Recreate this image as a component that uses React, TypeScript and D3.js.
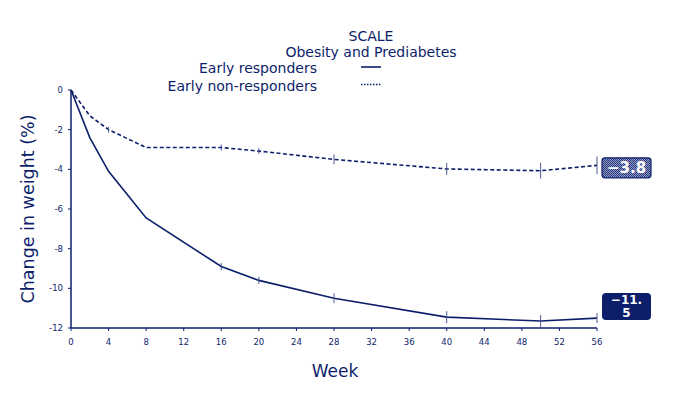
import { useMemo } from "react";
import * as d3 from "d3";

const weeks = [0, 2, 4, 8, 16, 20, 28, 40, 50, 56];
const responders = [0, -2.4, -4.1, -6.45, -8.9, -9.6, -10.5, -11.45, -11.65, -11.5];
const nonResponders = [0, -1.3, -2.0, -2.9, -2.9, -3.08, -3.5, -3.98, -4.07, -3.8];
// half length of the little vertical error ticks (null = none drawn)
const respondersErr = [null, null, null, null, 0.18, 0.18, 0.25, 0.3, 0.3, 0.25];
const nonRespondersErr = [null, null, 0.15, null, 0.15, 0.15, 0.25, 0.3, 0.4, 0.45];
const xTicks = [0, 4, 8, 12, 16, 20, 24, 28, 32, 36, 40, 44, 48, 52, 56];
const yTicks = [0, -2, -4, -6, -8, -10, -12];

const navy = "#0d1e6b";
const font = "DejaVu Sans, Verdana, sans-serif";

export default function App() {
  const width = 691;
  const height = 398;
  const x = d3.scaleLinear().domain([0, 56]).range([71, 597]);
  const y = d3.scaleLinear().domain([-12, 0]).range([328, 90]);

  const line = useMemo(
    () =>
      d3
        .line<number>()
        .x((_d, i) => x(weeks[i]))
        .y((d) => y(d)),
    []
  );

  const errTicks = (vals: number[], errs: (number | null)[], key: string) =>
    vals.map((v, i) => {
      const e = errs[i];
      if (e == null) return null;
      return (
        <line
          key={key + i}
          x1={x(weeks[i])}
          x2={x(weeks[i])}
          y1={y(v - e)}
          y2={y(v + e)}
          stroke="#4a5a94"
          strokeWidth={1}
        />
      );
    });

  return (
    <svg
      width={width}
      height={height}
      style={{ position: "absolute", left: 0, top: 0, background: "#fff" }}
      fontFamily={font}
    >
      <defs>
        <pattern id="chk" width="2" height="2" patternUnits="userSpaceOnUse">
          <rect width="2" height="2" fill="#8f98c2" />
          <rect width="1" height="1" fill="#2c3b80" />
          <rect x="1" y="1" width="1" height="1" fill="#2c3b80" />
        </pattern>
      </defs>

      {/* legend / title */}
      <g fill={navy}>
        <text x={371} y={41} textAnchor="middle" fontSize={14}>SCALE</text>
        <text x={371} y={57} textAnchor="middle" fontSize={14}>Obesity and Prediabetes</text>
        <text x={317} y={73} textAnchor="end" fontSize={14}>Early responders</text>
        <text x={317} y={91} textAnchor="end" fontSize={14}>Early non-responders</text>
      </g>
      <line x1={361} x2={381} y1={67} y2={67} stroke={navy} strokeWidth={1.6} />
      <line x1={361} x2={381} y1={84.5} y2={84.5} stroke={navy} strokeWidth={1.6} strokeDasharray="1.5,1.5" />

      {/* axes */}
      <line x1={x(0)} x2={x(0)} y1={y(0)} y2={y(-12)} stroke={navy} strokeWidth={1.5} />
      <line x1={x(0)} x2={x(56)} y1={y(-12)} y2={y(-12)} stroke={navy} strokeWidth={1.5} />
      {yTicks.map((t) => (
        <g key={"y" + t}>
          <line x1={x(0) - 3} x2={x(0)} y1={y(t)} y2={y(t)} stroke={navy} strokeWidth={1} />
          <text x={x(0) - 8} y={y(t) + 3} textAnchor="end" fontSize={8.5} fill={navy}>
            {t}
          </text>
        </g>
      ))}
      {xTicks.map((t) => (
        <g key={"x" + t}>
          <line x1={x(t)} x2={x(t)} y1={y(-12)} y2={y(-12) + 3} stroke={navy} strokeWidth={1} />
          <text x={x(t)} y={345} textAnchor="middle" fontSize={8.5} fill={navy}>
            {t}
          </text>
        </g>
      ))}
      <text x={335} y={377} textAnchor="middle" fontSize={17} fill={navy}>Week</text>
      <text
        transform={`translate(34,${209}) rotate(-90)`}
        textAnchor="middle"
        fontSize={17.5}
        fill={navy}
      >
        Change in weight (%)
      </text>

      {/* series */}
      <path d={line(responders) ?? ""} fill="none" stroke={navy} strokeWidth={1.6} />
      <path
        d={line(nonResponders) ?? ""}
        fill="none"
        stroke={navy}
        strokeWidth={1.6}
        strokeDasharray="4,2.5"
      />
      {errTicks(responders, respondersErr, "r")}
      {errTicks(nonResponders, nonRespondersErr, "n")}

      {/* end labels */}
      <rect x={602} y={y(-3.8) - 7.5} width={49} height={20} rx={3} fill="url(#chk)" stroke={navy} strokeWidth={1.2} />
      <text x={626.5} y={y(-3.8) + 7.5} textAnchor="middle" fontSize={15} fontWeight="bold" fill="#fff">
        −3.8
      </text>
      <rect x={602} y={293} width={49} height={27} rx={4} fill={navy} />
      <text textAnchor="middle" fontSize={12} fontWeight="bold" fill="#fff">
        <tspan x={626.5} y={304}>−11.</tspan>
        <tspan x={626.5} y={317}>5</tspan>
      </text>
    </svg>
  );
}
